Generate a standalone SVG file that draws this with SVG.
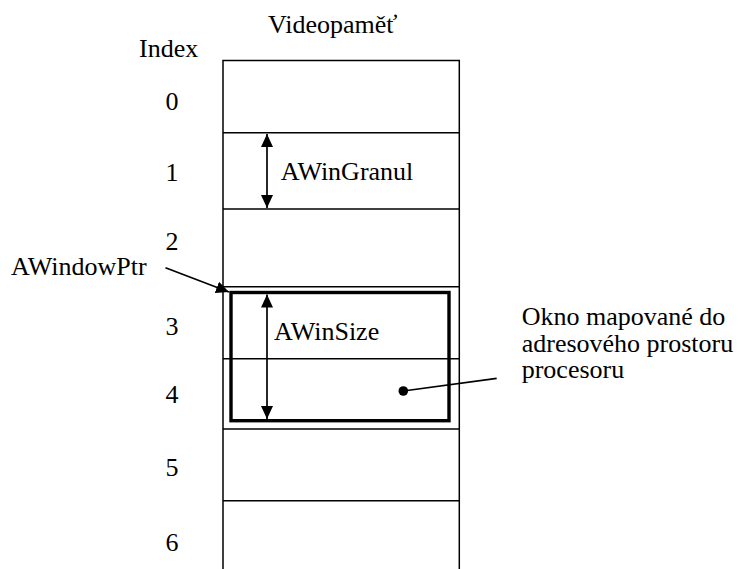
<svg xmlns="http://www.w3.org/2000/svg" width="741" height="569" viewBox="0 0 741 569">
<style>
text{font-family:"Liberation Serif","Times New Roman",serif;font-size:26px;fill:#000}
.thin{stroke:#000;stroke-width:1.5;fill:none}
.thick{stroke:#000;stroke-width:3.4;fill:none}
.conn{stroke:#000;stroke-width:1.7;fill:none}
.idx{text-anchor:middle}
</style>
<defs>
<marker id="ah" viewBox="0 0 13 12" refX="13" refY="6" markerWidth="13" markerHeight="12" markerUnits="userSpaceOnUse" orient="auto-start-reverse">
<path d="M0,0 L13,6 L0,12 Z" fill="#000"/>
</marker>
</defs>
<rect width="741" height="569" fill="#fff"/>
<g id="memory">
<path class="thin" d="M223,569 V60.5 H459.3 V569"/>
<line class="thin" x1="223" y1="132.7" x2="459.3" y2="132.7"/>
<line class="thin" x1="223" y1="209" x2="459.3" y2="209"/>
<line class="thin" x1="223" y1="286.8" x2="459.3" y2="286.8"/>
<line class="thin" x1="223" y1="358.8" x2="459.3" y2="358.8"/>
<line class="thin" x1="223" y1="429" x2="459.3" y2="429"/>
<line class="thin" x1="223" y1="500.8" x2="459.3" y2="500.8"/>
<text x="268" y="33.3">Videopaměť</text>
</g>
<g id="index">
<text x="139" y="56.7">Index</text>
<text class="idx" x="172" y="110">0</text>
<text class="idx" x="172" y="181">1</text>
<text class="idx" x="172" y="250">2</text>
<text class="idx" x="172" y="334.5">3</text>
<text class="idx" x="172" y="403">4</text>
<text class="idx" x="172" y="476">5</text>
<text class="idx" x="172" y="551">6</text>
</g>
<g id="window">
<rect class="thick" x="231" y="292.5" width="218" height="128.2"/>
<circle cx="403.3" cy="391" r="4.8" fill="#000"/>
</g>
<g id="awingranul">
<text x="280.7" y="180">AWinGranul</text>
</g>
<g id="awinsize">
<text x="274" y="340">AWinSize</text>
</g>
<g id="awindowptr">
<text x="11" y="275">AWindowPtr</text>
</g>
<g id="okno">
<text x="521.7" y="325">Okno mapované do</text>
<text x="521.7" y="351.7">adresového prostoru</text>
<text x="521.7" y="378.3">procesoru</text>
</g>
<g id="connectors">
<line class="conn" x1="267" y1="134" x2="267" y2="208" marker-start="url(#ah)" marker-end="url(#ah)"/>
<line class="conn" x1="267" y1="294.5" x2="267" y2="419" marker-start="url(#ah)" marker-end="url(#ah)"/>
<line class="conn" x1="165.5" y1="267.7" x2="229" y2="292" marker-end="url(#ah)"/>
<line class="conn" x1="403.3" y1="391" x2="496.7" y2="378.3"/>
</g>
</svg>
